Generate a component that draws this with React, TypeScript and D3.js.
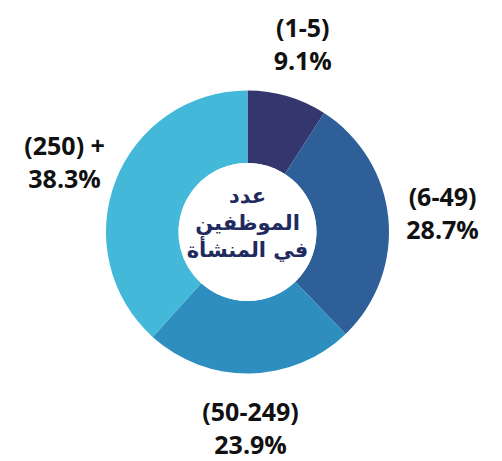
import React from "react";
import * as d3 from "d3";

const categories = ["(1-5)", "(6-49)", "(50-249)", "(250) +"];
const values = [9.1, 28.7, 23.9, 38.3];
const valueLabels = ["9.1%", "28.7%", "23.9%", "38.3%"];
const colors = ["#33376E", "#2E5F99", "#2E8EBF", "#43B8D8"];
const centerLines = ["عدد", "الموظفين", "في المنشأة"];

const W = 502;
const H = 461;
const cx = 247.5;
const cy = 232;
const outerR = 141.5;
const innerR = 69;
const labelR = 196;

export default function App() {
  const pie = d3.pie<number>().sort(null).value((d) => d);
  const arcs = pie(values);
  const arcGen = d3.arc<d3.PieArcDatum<number>>().innerRadius(innerR).outerRadius(outerR);
  const labelArc = d3.arc<d3.PieArcDatum<number>>().innerRadius(labelR).outerRadius(labelR);

  return (
    <svg
      width={W}
      height={H}
      style={{ position: "absolute", left: 0, top: 0, background: "#fff" }}
    >
      <g transform={`translate(${cx},${cy})`}>
        {arcs.map((a, i) => (
          <path key={i} d={arcGen(a) || ""} fill={colors[i]} />
        ))}
        <circle r={innerR} fill="#fff" />
        {arcs.map((a, i) => {
          const [x, y] = labelArc.centroid(a);
          return (
            <g key={"l" + i} transform={`translate(${x},${y})`}>
              <text
                y={-17}
                textAnchor="middle"
                dominantBaseline="central"
                fontFamily="'Open Sans', sans-serif"
                fontWeight="bold"
                fontSize={25}
                fill="#111"
              >
                {categories[i]}
              </text>
              <text
                y={16}
                textAnchor="middle"
                dominantBaseline="central"
                fontFamily="'Open Sans', sans-serif"
                fontWeight="bold"
                fontSize={25}
                fill="#111"
              >
                {valueLabels[i]}
              </text>
            </g>
          );
        })}
        {centerLines.map((t, i) => (
          <text
            key={"c" + i}
            x={0}
            y={-36 + i * 27}
            textAnchor="middle"
            dominantBaseline="central"
            fontFamily="'DejaVu Sans', sans-serif"
            fontWeight="bold"
            fontSize={21}
            fill="#1F2A5E"
            direction="rtl"
          >
            {t}
          </text>
        ))}
      </g>
    </svg>
  );
}
